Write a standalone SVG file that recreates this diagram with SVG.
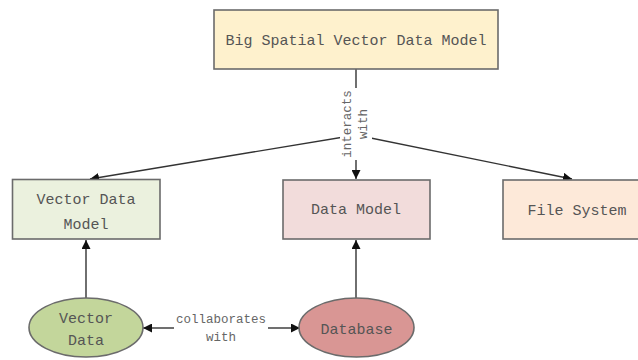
<svg xmlns="http://www.w3.org/2000/svg" width="638" height="360" viewBox="0 0 638 360">
<defs>
<style>
.box{stroke:#6b6b6b;stroke-width:1.6}
.t{font-family:"Liberation Mono",monospace;font-size:15px;fill:#555;text-anchor:middle}
.lbl{font-family:"Liberation Mono",monospace;font-size:12.5px;fill:#666;text-anchor:middle}
.c{stroke:#333;stroke-width:1.4;fill:none}
</style>
<marker id="ah" viewBox="0 0 10 10" refX="10" refY="5" markerWidth="9" markerHeight="9" markerUnits="userSpaceOnUse" orient="auto">
<path d="M0,0 L10,5 L0,10 z" fill="#111"/>
</marker>
<marker id="ahs" viewBox="0 0 10 10" refX="0" refY="5" markerWidth="9" markerHeight="9" markerUnits="userSpaceOnUse" orient="auto">
<path d="M10,0 L0,5 L10,10 z" fill="#111"/>
</marker>
</defs>
<rect width="638" height="360" fill="#fff"/>
<g id="connectors">
<line class="c" x1="356" y1="69" x2="356" y2="179" marker-end="url(#ah)"/>
<line class="c" x1="356" y1="135" x2="90" y2="179" marker-end="url(#ah)"/>
<line class="c" x1="356" y1="135" x2="572" y2="179" marker-end="url(#ah)"/>
<rect x="340" y="88" width="32" height="72" fill="#fff"/>
<text class="lbl" transform="translate(351,124) rotate(-90)"><tspan x="0" y="0">interacts</tspan><tspan x="0" y="16">with</tspan></text>
<line class="c" x1="86" y1="298" x2="86" y2="240" marker-end="url(#ah)"/>
<line class="c" x1="356" y1="298" x2="356" y2="240" marker-end="url(#ah)"/>
<line class="c" x1="143" y1="328" x2="174" y2="328" marker-start="url(#ahs)"/>
<line class="c" x1="268" y1="328" x2="300" y2="328" marker-end="url(#ah)"/>
<text class="lbl" x="221" y="323">collaborates</text>
<text class="lbl" x="221" y="341">with</text>
</g>
<g id="big-spatial">
<rect class="box" x="214" y="10" width="284" height="59" fill="#fef1cd"/>
<text class="t" x="356" y="45">Big Spatial Vector Data Model</text>
</g>
<g id="vector-data-model">
<rect class="box" x="12.5" y="179.5" width="147.5" height="59.5" fill="#ebf1de"/>
<text class="t" x="86" y="204">Vector Data</text>
<text class="t" x="86" y="229">Model</text>
</g>
<g id="data-model">
<rect class="box" x="283" y="180" width="147" height="59" fill="#f2dcdb"/>
<text class="t" x="356" y="214">Data Model</text>
</g>
<g id="file-system">
<rect class="box" x="503" y="180" width="140" height="59" fill="#fde9d9"/>
<text class="t" x="577" y="215">File System</text>
</g>
<g id="vector-data">
<ellipse class="box" cx="86" cy="327.5" rx="57" ry="29.5" fill="#c3d69b"/>
<text class="t" x="86" y="323">Vector</text>
<text class="t" x="86" y="345">Data</text>
</g>
<g id="database">
<ellipse class="box" cx="356.5" cy="327.5" rx="57.5" ry="29.5" fill="#d99694"/>
<text class="t" x="356.5" y="334">Database</text>
</g>
</svg>
